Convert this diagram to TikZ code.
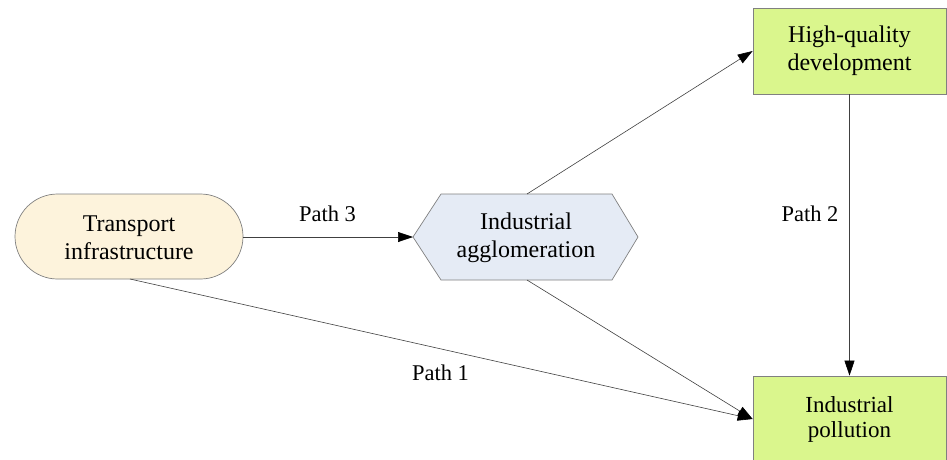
\documentclass[tikz,border=0pt]{standalone}
\usepackage{fontspec}
\setmainfont{Liberation Serif}
\usetikzlibrary{arrows.meta}
\definecolor{creamfill}{HTML}{FDF3DC}
\definecolor{hexfill}{HTML}{E5EBF5}
\definecolor{limefill}{HTML}{DAF68D}
\definecolor{edgegray}{HTML}{808080}
\tikzset{
  boxtext/.style={align=center,font=\fontsize{24}{28}\selectfont,text=black},
  greenbox/.style={draw=edgegray,fill=limefill,line width=0.7pt,minimum width=193pt,minimum height=86pt,inner sep=0pt},
  pathlabel/.style={font=\fontsize{22.5}{26}\selectfont},
  link/.style={draw=black!75,line width=0.6pt,-{Triangle[length=15pt,width=10pt,color=black,fill=black]}},
}
\begin{document}
\begin{tikzpicture}[x=1pt,y=-1pt]
\useasboundingbox (0,0) rectangle (947,459);

% Transport infrastructure: rounded stadium
\filldraw[fill=creamfill,draw=edgegray,line width=0.7pt,rounded corners=42.5pt]
  (15,194) rectangle (243,279);
\node[boxtext] (tr) at (129,238) {Transport\\infrastructure};
\coordinate (trR) at (243,237);
\coordinate (trB) at (130,279);

% Industrial agglomeration: hexagon
\filldraw[fill=hexfill,draw=edgegray,line width=0.7pt]
  (413,237) -- (441,194) -- (612,194) -- (638,237) -- (612,280) -- (441,280) -- cycle;
\node[boxtext] (ia) at (526,238) {Industrial\\agglomeration};
\coordinate (iaL) at (413,237);
\coordinate (iaT) at (527,194);
\coordinate (iaB) at (527,280);

% High-quality development
\node[boxtext,greenbox] (hq) at (849.5,51) {High-quality\\development};

% Industrial pollution
\node[boxtext,greenbox,font=\fontsize{23}{25}\selectfont] (ip) at (849.5,419) {Industrial\\pollution};

% Connectors
\draw[link] (trR) -- (iaL);
\draw[link] (iaT) -- (hq.west);
\draw[link] (iaB) -- (ip.west);
\draw[link] (trB) -- (ip.west);
\draw[link] (hq.south) -- (ip.north);

% Path labels
\node[pathlabel] (p3) at (327.5,214) {Path 3};
\node[pathlabel] (p1) at (440.5,373) {Path 1};
\node[pathlabel] (p2) at (810,213.5) {Path 2};
\end{tikzpicture}
\end{document}
